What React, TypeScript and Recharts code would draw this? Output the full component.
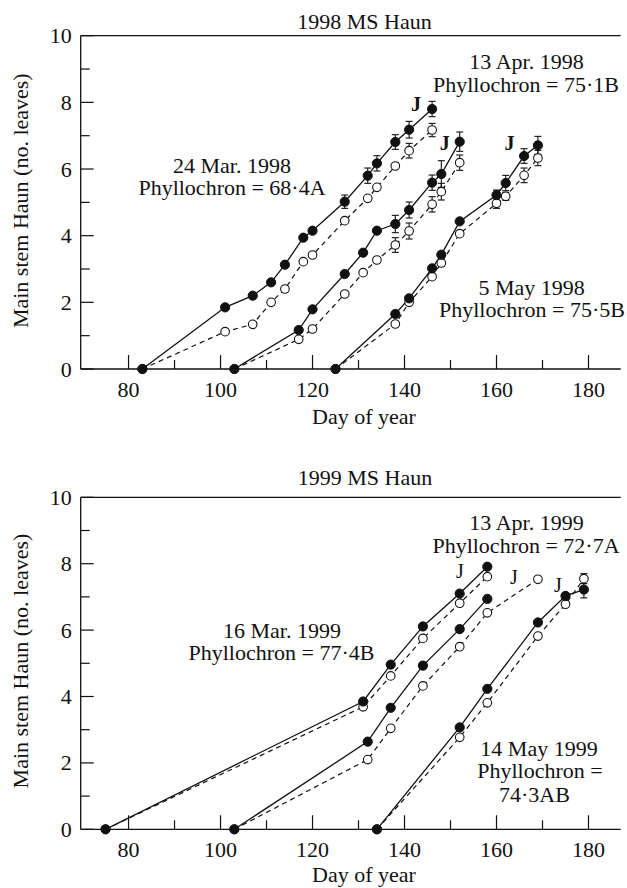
import React from 'react';
import { LineChart, Line, XAxis, YAxis, ErrorBar, ReferenceLine } from 'recharts';

const INK = '#111';
const SERIF = "'Liberation Serif', 'Times New Roman', serif";

// ---- 1998: day of year, Haun stage (filled = plot 1, open = plot 2), error ----
const days98Mar = [83, 101, 107, 111, 114, 118, 120, 127, 132, 134, 138, 141, 146];
const filled98Mar = [0, 1.85, 2.2, 2.6, 3.13, 3.94, 4.15, 5.02, 5.8, 6.17, 6.81, 7.18, 7.8];
const filledErr98Mar = [null, null, null, null, null, null, null, 0.2, 0.23, 0.23, 0.22, 0.25, 0.23];
const open98Mar = [0, 1.12, 1.34, 2.0, 2.4, 3.22, 3.42, 4.45, 5.12, 5.45, 6.09, 6.55, 7.17];
const openErr98Mar = [null, null, null, null, null, null, null, null, null, null, null, 0.22, 0.2];

const days98Apr = [103, 117, 120, 127, 131, 134, 138, 141, 146, 148, 152];
const filled98Apr = [0, 1.17, 1.79, 2.85, 3.49, 4.15, 4.35, 4.77, 5.59, 5.85, 6.82];
const filledErr98Apr = [null, null, null, null, null, null, 0.26, 0.24, 0.23, 0.4, 0.29];
const open98Apr = [0, 0.89, 1.2, 2.25, 2.89, 3.27, 3.72, 4.14, 4.94, 5.32, 6.19];
const openErr98Apr = [null, null, null, null, null, null, 0.22, 0.24, 0.23, 0.25, 0.23];

const days98May = [125, 138, 141, 146, 148, 152, 160, 162, 166, 169];
const filled98May = [0, 1.65, 2.12, 3.02, 3.43, 4.43, 5.22, 5.58, 6.39, 6.71];
const filledErr98May = [null, null, null, null, null, null, 0.15, 0.23, 0.22, 0.27];
const open98May = [0, 1.35, 2.0, 2.77, 3.18, 4.06, 4.97, 5.18, 5.81, 6.33];
const openErr98May = [null, null, null, null, null, null, 0.15, 0.12, 0.22, 0.23];

// ---- 1999 ----
const days99Mar = [75, 131, 137, 144, 152, 158];
const filled99Mar = [0, 3.85, 4.96, 6.11, 7.1, 7.91];
const open99Mar = [0, 3.69, 4.62, 5.75, 6.81, 7.61];

const days99AprFilled = [103, 132, 137, 144, 152, 158];
const filled99Apr = [0, 2.64, 3.66, 4.93, 6.03, 6.94];
const days99AprOpen = [103, 132, 137, 144, 152, 158, 169];
const open99Apr = [0, 2.1, 3.04, 4.32, 5.5, 6.52, 7.53];

const days99May = [134, 152, 158, 169, 175, 179];
const filled99May = [0, 3.07, 4.23, 6.23, 7.03, 7.22];
const filledErr99May = [null, null, null, null, null, 0.25];
const open99May = [0, 2.77, 3.81, 5.82, 6.78, 7.55];
const openErr99May = [null, null, null, null, null, 0.15];

const xTicks = [80, 90, 100, 110, 120, 130, 140, 150, 160, 170, 180];
const yTicks = [0, 1, 2, 3, 4, 5, 6, 7, 8, 9, 10];

type Pt = { day: number; v: number; e: number | null };
const zip = (d: number[], v: number[], e?: (number | null)[]): Pt[] =>
  d.map((day, i) => ({ day, v: v[i], e: e ? e[i] : null }));

const panel98 = [
  { filled: zip(days98Mar, filled98Mar, filledErr98Mar), open: zip(days98Mar, open98Mar, openErr98Mar) },
  { filled: zip(days98Apr, filled98Apr, filledErr98Apr), open: zip(days98Apr, open98Apr, openErr98Apr) },
  { filled: zip(days98May, filled98May, filledErr98May), open: zip(days98May, open98May, openErr98May) },
];
const panel99 = [
  { filled: zip(days99Mar, filled99Mar), open: zip(days99Mar, open99Mar) },
  { filled: zip(days99AprFilled, filled99Apr), open: zip(days99AprOpen, open99Apr) },
  { filled: zip(days99May, filled99May, filledErr99May), open: zip(days99May, open99May, openErr99May) },
];

const YTick = (props: any) => {
  const { x, y, payload } = props;
  const major = payload.value % 2 === 0;
  return (
    <g>
      <line x1={x} x2={x + (major ? 13 : 9)} y1={y} y2={y} stroke={INK} strokeWidth={1.2} />
      {major && (
        <text x={x - 9} y={y + 7.5} textAnchor="end" fontSize={22} fontFamily={SERIF} fill={INK}>
          {payload.value}
        </text>
      )}
    </g>
  );
};

const XTick = (props: any) => {
  const { x, y, payload } = props;
  const major = payload.value % 20 === 0;
  return (
    <g>
      <line x1={x} x2={x} y1={y} y2={y - (major ? 14 : 9)} stroke={INK} strokeWidth={1.2} />
      {major && (
        <text x={x} y={y + 27.5} textAnchor="middle" fontSize={22} fontFamily={SERIF} fill={INK}>
          {payload.value}
        </text>
      )}
    </g>
  );
};

function Panel({ series, margin }: { series: { filled: Pt[]; open: Pt[] }[]; margin: any }) {
  return (
    <LineChart width={627} height={444} margin={margin}>
      <XAxis
        dataKey="day"
        type="number"
        domain={[69.6, 187]}
        ticks={xTicks}
        interval={0}
        height={30}
        tickSize={0}
        tickMargin={0}
        tickLine={false}
        tick={<XTick />}
        axisLine={{ stroke: INK, strokeWidth: 1.3 }}
      />
      <YAxis
        type="number"
        domain={[0, 10]}
        ticks={yTicks}
        interval={0}
        width={40}
        tickSize={0}
        tickMargin={0}
        tickLine={false}
        tick={<YTick />}
        axisLine={{ stroke: INK, strokeWidth: 1.3 }}
      />
      <ReferenceLine y={10} stroke={INK} strokeWidth={1.3} />
      {series.map((s, i) => (
        <Line
          key={'o' + i}
          data={s.open}
          dataKey="v"
          stroke={INK}
          strokeWidth={1.2}
          strokeDasharray="5 4"
          dot={{ r: 4.3, fill: '#fff', stroke: INK, strokeWidth: 1.1, strokeDasharray: '' }}
          isAnimationActive={false}
        >
          <ErrorBar dataKey="e" direction="y" width={3.5} stroke={INK} strokeWidth={1.1} />
        </Line>
      ))}
      {series.map((s, i) => (
        <Line
          key={'f' + i}
          data={s.filled}
          dataKey="v"
          stroke={INK}
          strokeWidth={1.3}
          dot={{ r: 4.6, fill: INK, stroke: INK, strokeWidth: 1 }}
          isAnimationActive={false}
        >
          <ErrorBar dataKey="e" direction="y" width={3.5} stroke={INK} strokeWidth={1.1} />
        </Line>
      ))}
    </LineChart>
  );
}

const T = ({ x, y, children, size = 22, weight = 'normal' }: any) => (
  <text x={x} y={y} textAnchor="middle" fontSize={size} fontWeight={weight} fontFamily={SERIF} fill={INK}>
    {children}
  </text>
);

export default function App() {
  return (
    <div style={{ position: 'absolute', left: 0, top: 0, width: 627, height: 888, background: '#fff' }}>
      <div style={{ position: 'absolute', left: 0, top: 0 }}>
        <Panel series={panel98} margin={{ top: 35.7, right: 6.3, bottom: 45, left: 40.7 }} />
      </div>
      <div style={{ position: 'absolute', left: 0, top: 444 }}>
        <Panel series={panel99} margin={{ top: 53.3, right: 6.3, bottom: 28.7, left: 40.7 }} />
      </div>
      <svg width={627} height={888} style={{ position: 'absolute', left: 0, top: 0, pointerEvents: 'none' }}>
        {/* 1998 panel */}
        <T x={364.5} y={28.5}>1998 MS Haun</T>
        <T x={232} y={172.5}>24 Mar. 1998</T>
        <T x={232} y={195}>Phyllochron = 68·4A</T>
        <T x={526.5} y={69}>13 Apr. 1998</T>
        <T x={526} y={91.7}>Phyllochron = 75·1B</T>
        <T x={531.7} y={295}>5 May 1998</T>
        <T x={532} y={317}>Phyllochron = 75·5B</T>
        <T x={416} y={111} size={20} weight="bold">J</T>
        <T x={444.7} y={150} size={20} weight="bold">J</T>
        <T x={509.5} y={150} size={20} weight="bold">J</T>
        <T x={364} y={424}>Day of year</T>
        <text x={28} y={200.7} textAnchor="middle" fontSize={22} fontFamily={SERIF} fill={INK} transform="rotate(-90 28 200.7)">
          Main stem Haun (no. leaves)
        </text>

        {/* 1999 panel */}
        <T x={365} y={485}>1999 MS Haun</T>
        <T x={282} y={637.5}>16 Mar. 1999</T>
        <T x={281.5} y={660}>Phyllochron = 77·4B</T>
        <T x={526.5} y={530}>13 Apr. 1999</T>
        <T x={526} y={552.5}>Phyllochron = 72·7A</T>
        <T x={539} y={755.5}>14 May 1999</T>
        <T x={540} y={778.3}>Phyllochron =</T>
        <T x={534.5} y={801.7}>74·3AB</T>
        <T x={460} y={578} size={20}>J</T>
        <T x={514} y={584} size={20}>J</T>
        <T x={558} y={591.7} size={20}>J</T>
        <T x={364} y={882}>Day of year</T>
        <text x={28} y={661} textAnchor="middle" fontSize={22} fontFamily={SERIF} fill={INK} transform="rotate(-90 28 661)">
          Main stem Haun (no. leaves)
        </text>
      </svg>
    </div>
  );
}
